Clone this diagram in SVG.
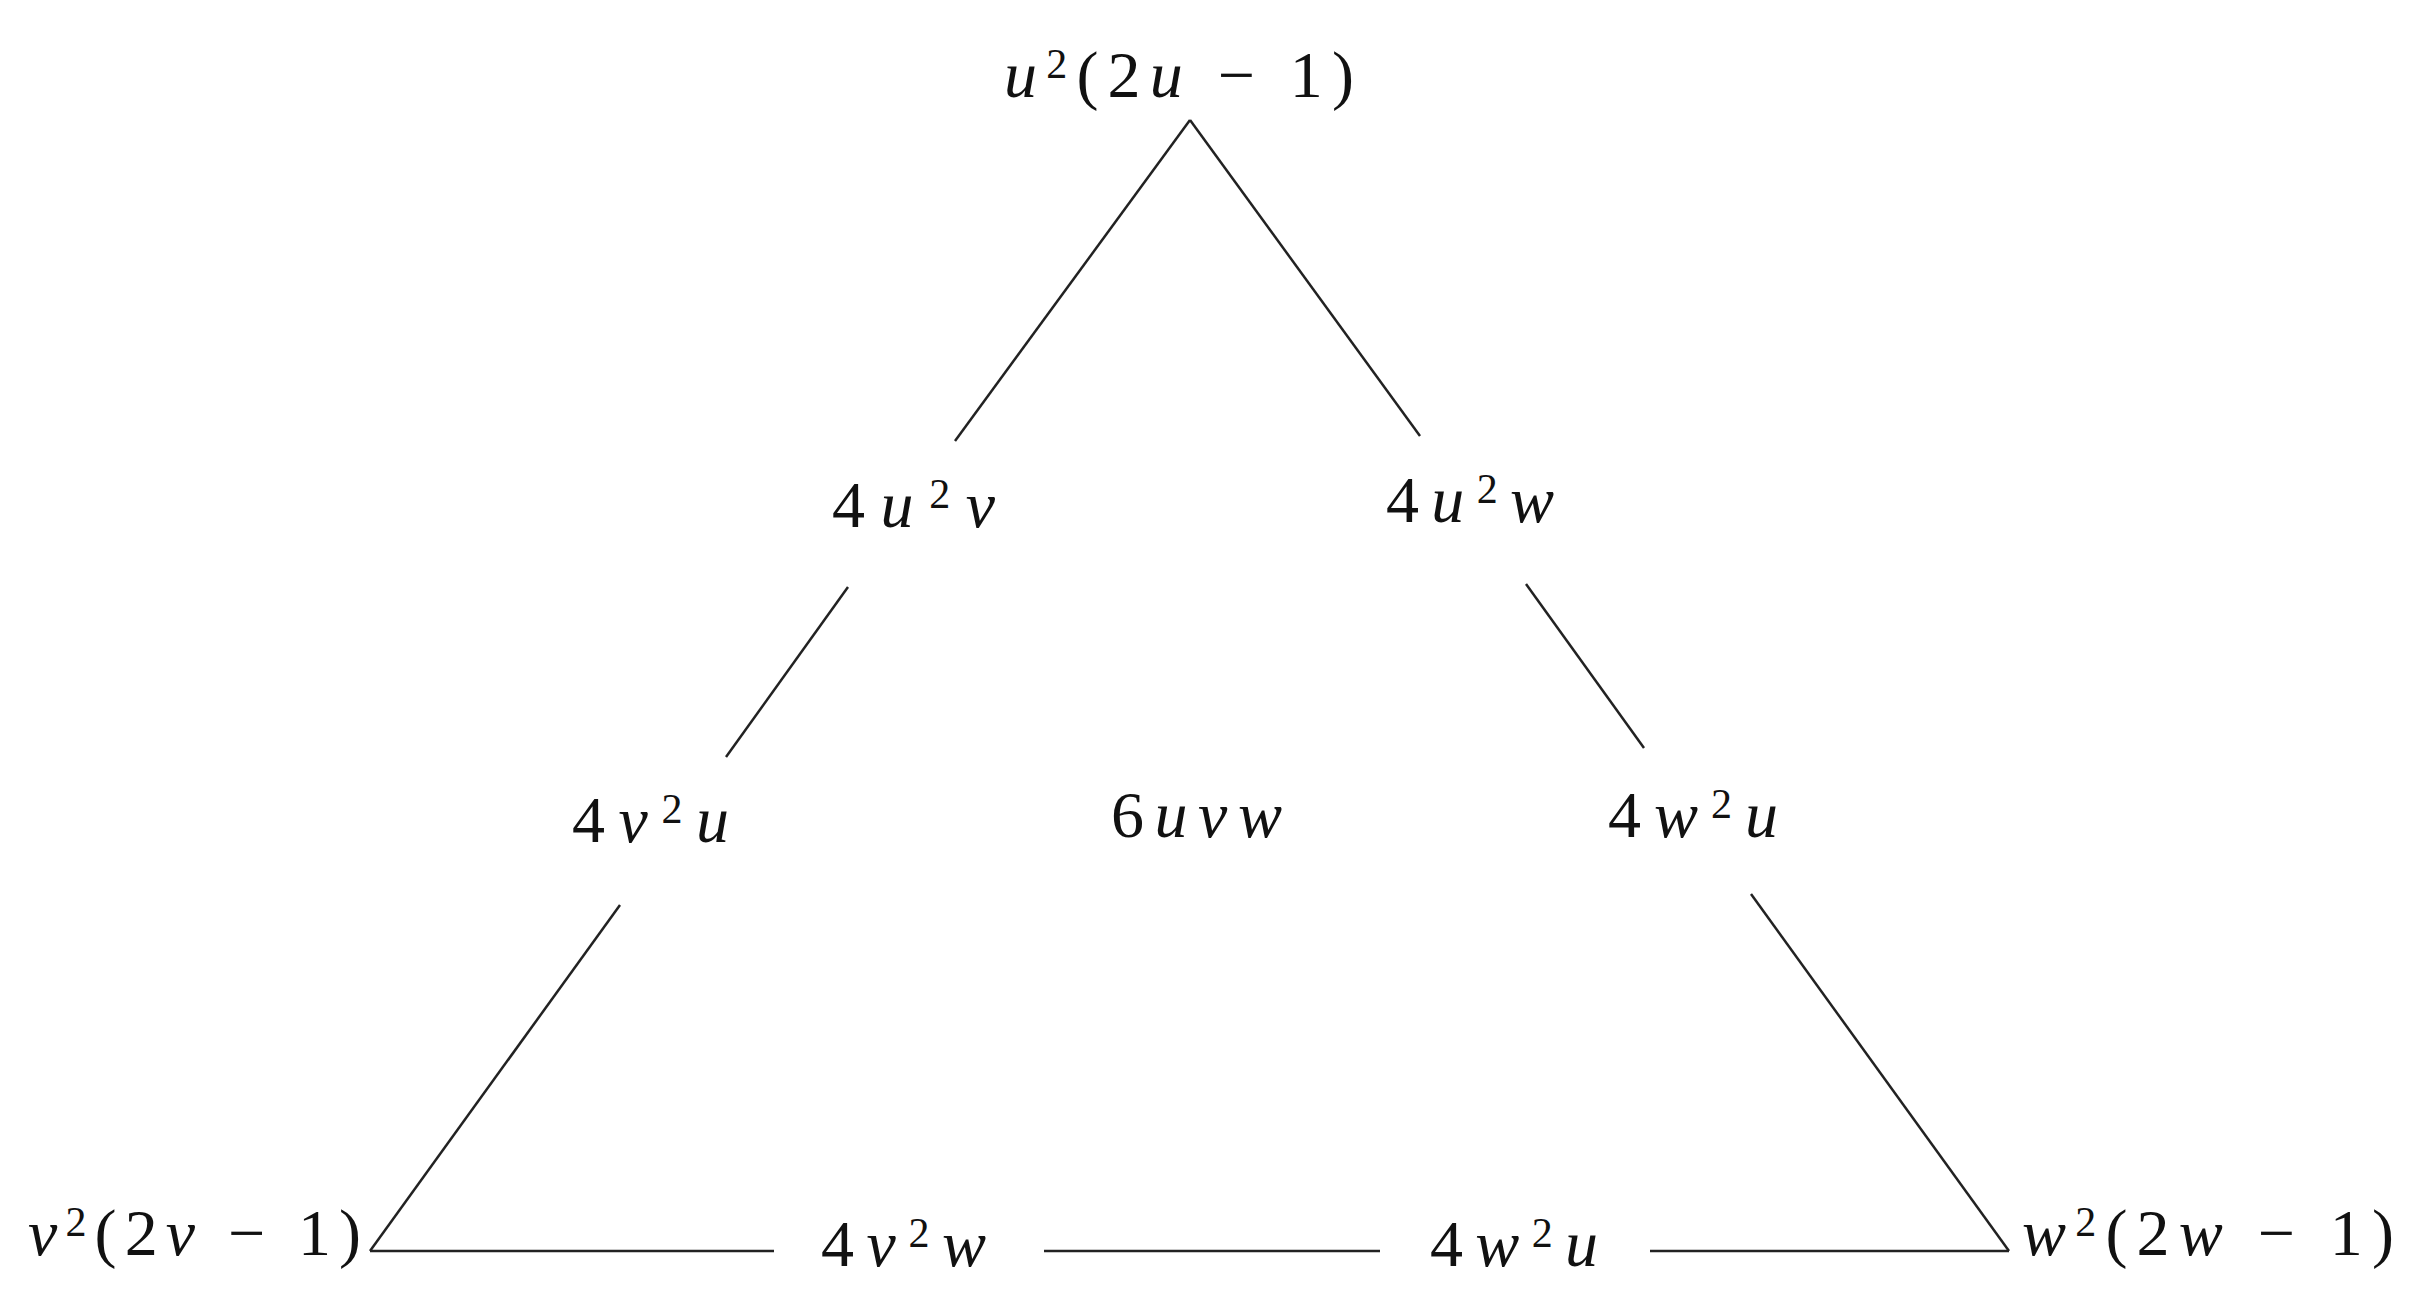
<svg xmlns="http://www.w3.org/2000/svg" width="2436" height="1300" viewBox="0 0 2436 1300">
<style>
text{font-family:"Liberation Serif","DejaVu Serif",serif;font-size:66px;fill:#111}
.i{font-style:italic}
.s{font-size:42px;baseline-shift:45%}
.c{stroke:#222;stroke-width:2.5;fill:none}
</style>
<rect width="2436" height="1300" fill="#fff"/>
<g id="connectors">
<line class="c" x1="1190" y1="120" x2="955" y2="441"/>
<line class="c" x1="1190" y1="120" x2="1420" y2="436"/>
<line class="c" x1="848" y1="587" x2="726" y2="757"/>
<line class="c" x1="1526" y1="584" x2="1644" y2="748"/>
<line class="c" x1="620" y1="905" x2="370" y2="1251"/>
<line class="c" x1="1751" y1="894" x2="2009" y2="1251"/>
<line class="c" x1="370" y1="1251" x2="774" y2="1251"/>
<line class="c" x1="1044" y1="1251" x2="1380" y2="1251"/>
<line class="c" x1="1650" y1="1251" x2="2009" y2="1251"/>
</g>
<g id="n-top"><text x="1004" y="97" textLength="350" lengthAdjust="spacing"><tspan class="i">u</tspan><tspan class="s">2</tspan>(2<tspan class="i">u</tspan> − 1)</text></g>
<g id="n-u2v"><text x="832" y="527" textLength="163" lengthAdjust="spacing">4<tspan class="i">u</tspan><tspan class="s">2</tspan><tspan class="i">v</tspan></text></g>
<g id="n-u2w"><text x="1386" y="522" textLength="168" lengthAdjust="spacing">4<tspan class="i">u</tspan><tspan class="s">2</tspan><tspan class="i">w</tspan></text></g>
<g id="n-v2u"><text x="572" y="842" textLength="157" lengthAdjust="spacing">4<tspan class="i">v</tspan><tspan class="s">2</tspan><tspan class="i">u</tspan></text></g>
<g id="n-center"><text x="1111" y="837" textLength="171" lengthAdjust="spacing">6<tspan class="i">uvw</tspan></text></g>
<g id="n-w2u-r"><text x="1608" y="837" textLength="170" lengthAdjust="spacing">4<tspan class="i">w</tspan><tspan class="s">2</tspan><tspan class="i">u</tspan></text></g>
<g id="n-left"><text x="28" y="1255" textLength="333" lengthAdjust="spacing"><tspan class="i">v</tspan><tspan class="s">2</tspan>(2<tspan class="i">v</tspan> − 1)</text></g>
<g id="n-v2w"><text x="821" y="1266" textLength="165" lengthAdjust="spacing">4<tspan class="i">v</tspan><tspan class="s">2</tspan><tspan class="i">w</tspan></text></g>
<g id="n-w2u-b"><text x="1430" y="1266" textLength="168" lengthAdjust="spacing">4<tspan class="i">w</tspan><tspan class="s">2</tspan><tspan class="i">u</tspan></text></g>
<g id="n-right"><text x="2022" y="1255" textLength="372" lengthAdjust="spacing"><tspan class="i">w</tspan><tspan class="s">2</tspan>(2<tspan class="i">w</tspan> − 1)</text></g>
</svg>
